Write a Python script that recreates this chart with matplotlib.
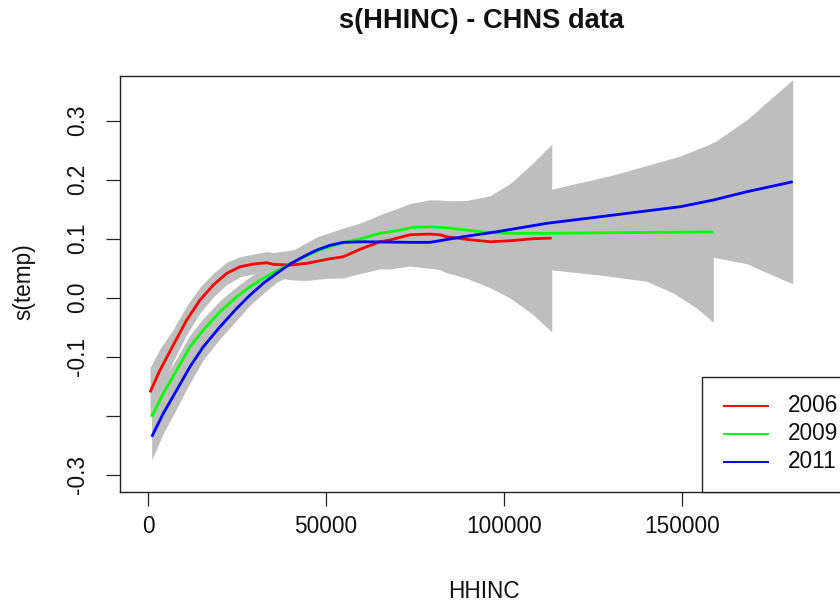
import matplotlib
matplotlib.use('Agg')
import matplotlib.pyplot as plt
from matplotlib.patches import Rectangle
from matplotlib.lines import Line2D

plt.rcParams['font.family'] = ['Liberation Sans', 'DejaVu Sans']

# ---------------- data ----------------
years = ['2006', '2009', '2011']
colors = ['#FF0000', '#00FF00', '#0000FF']
band_color = '#BEBEBE'

x_2006 = [562, 3371, 7107, 10871, 14607, 18343, 22107, 25843, 29579, 33343,
          35197, 39888, 44579, 50197, 54860, 59523, 65141, 67950, 73568,
          79186, 81995, 83904, 89522, 96105, 101723, 108233, 113402]
fit_2006 = [-0.1607, -0.1229, -0.0805, -0.0381, -0.0042, 0.0212, 0.0410, 0.0522,
            0.0568, 0.0590, 0.0563, 0.0551, 0.0580, 0.0647, 0.0692, 0.0817,
            0.0946, 0.0975, 0.1064, 0.1076, 0.1064, 0.1031, 0.0986, 0.0946,
            0.0963, 0.0997, 0.1008]
se_2006 = [0.042, 0.036, 0.027, 0.024, 0.022, 0.020, 0.019, 0.017, 0.017, 0.019,
           0.020, 0.025, 0.029, 0.032, 0.036, 0.041, 0.046, 0.049, 0.053,
           0.058, 0.059, 0.061, 0.066, 0.078, 0.097, 0.129, 0.159]

x_2009 = [1039, 4298, 8062, 11798, 15534, 20225, 24916, 28651, 32388, 36151,
          39888, 43624, 47387, 51124, 54860, 59523, 65141, 69859, 74523,
          79186, 83904, 89522, 95140, 102611, 111994, 128848, 140085, 147556,
          154129, 158793]
fit_2009 = [-0.2020, -0.1624, -0.1229, -0.0834, -0.0551, -0.0241, 0.0014, 0.0183,
            0.0325, 0.0454, 0.0568, 0.0681, 0.0788, 0.0861, 0.0929, 0.0992,
            0.1088, 0.1132, 0.1190, 0.1200, 0.1183, 0.1144, 0.1105, 0.1088,
            0.1088, 0.1098, 0.1105, 0.1107, 0.1110, 0.1110]
se_2009 = [0.034, 0.024, 0.020, 0.020, 0.020, 0.019, 0.017, 0.017, 0.017, 0.019,
           0.020, 0.022, 0.024, 0.024, 0.025, 0.027, 0.031, 0.034, 0.037,
           0.041, 0.044, 0.047, 0.051, 0.056, 0.061, 0.073, 0.083, 0.103,
           0.129, 0.153]

x_2011 = [1039, 4298, 8062, 11798, 15534, 20225, 24916, 28651, 32388, 36151,
          39888, 43624, 47387, 51124, 54860, 60478, 73596, 79214, 88570,
          97952, 111994, 130704, 149441, 158793, 168174, 181096]
fit_2011 = [-0.2359, -0.1963, -0.1568, -0.1173, -0.0834, -0.0495, -0.0183, 0.0042,
            0.0241, 0.0410, 0.0568, 0.0692, 0.0805, 0.0885, 0.0936, 0.0946,
            0.0936, 0.0936, 0.1031, 0.1115, 0.1258, 0.1398, 0.1539, 0.1653,
            0.1793, 0.1963]
se_2011 = [0.039, 0.034, 0.031, 0.027, 0.022, 0.020, 0.020, 0.017, 0.017, 0.015,
           0.017, 0.019, 0.019, 0.020, 0.022, 0.027, 0.037, 0.041, 0.046,
           0.051, 0.056, 0.068, 0.086, 0.097, 0.122, 0.173]

xticks = [0, 50000, 100000, 150000]
xtick_labels = ['0', '50000', '100000', '150000']
yticks = [-0.3, -0.2, -0.1, 0.0, 0.1, 0.2, 0.3]
ytick_labels = ['-0.3', '', '-0.1', '0.0', '0.1', '0.2', '0.3']

title = 's(HHINC) - CHNS data'
xlabel = 'HHINC'
ylabel = 's(temp)'

series = [(x_2006, fit_2006, se_2006), (x_2009, fit_2009, se_2009),
          (x_2011, fit_2011, se_2011)]

# ---------------- figure ----------------
W, H = 840, 606
fig = plt.figure(figsize=(W / 100, H / 100), dpi=100)

def fx(px):
    return px / W

def fy(py):
    return 1 - py / H

ax_left, ax_right, ax_top, ax_bottom = 120, 844, 75.7, 491.7
ax = fig.add_axes([fx(ax_left), fy(ax_bottom), (ax_right - ax_left) / W,
                   (ax_bottom - ax_top) / H])
ax.set_xlim(-7865, 195500)
ax.set_ylim(-0.329, 0.376)

for (xs, fit, se) in series:
    lo = [f - s for f, s in zip(fit, se)]
    hi = [f + s for f, s in zip(fit, se)]
    ax.fill_between(xs, lo, hi, color=band_color, linewidth=0, zorder=1)

for (xs, fit, se), c in zip(series, colors):
    ax.plot(xs, fit, color=c, lw=2.0, zorder=3, solid_capstyle='butt')

ax.set_xticks(xticks)
ax.set_xticklabels(xtick_labels)
ax.set_yticks(yticks)
ax.set_yticklabels(ytick_labels, rotation=90, va='center')

tick_fs = 16.3
ax.tick_params(axis='both', direction='out', length=10, width=0.9,
               color='#222222', labelsize=tick_fs, labelcolor='#111111')
ax.tick_params(axis='x', pad=7)
ax.tick_params(axis='y', pad=12)
for sp in ax.spines.values():
    sp.set_color('#222222')
    sp.set_linewidth(1.0)

fig.text(fx(482), fy(20.7), title, ha='center', va='center',
         fontsize=19.6, fontweight='bold', color='#111111')
fig.text(fx(484), fy(592), xlabel, ha='center', va='center',
         fontsize=tick_fs, color='#111111')
fig.text(fx(24), fy(282), ylabel, ha='center', va='center', rotation=90,
         fontsize=tick_fs, color='#111111')

# legend (bottom right, R style)
leg_left, leg_top, leg_bottom = 702, 377, 491.7
fig.add_artist(Rectangle((fx(leg_left), fy(leg_bottom)), fx(860 - leg_left),
                         fy(leg_top) - fy(leg_bottom), transform=fig.transFigure,
                         facecolor='white', edgecolor='#222222', lw=1.0,
                         zorder=5))
row_y = [405.7, 433.7, 461.7]
for yy, c, lab in zip(row_y, colors, years):
    fig.add_artist(Line2D([fx(724), fx(768)], [fy(yy), fy(yy)],
                          transform=fig.transFigure, color=c, lw=1.4,
                          zorder=6))
    fig.text(fx(788), fy(yy), lab, ha='left', va='center',
             fontsize=tick_fs, color='#111111', zorder=6)

fig.savefig('out.png', dpi=100)
